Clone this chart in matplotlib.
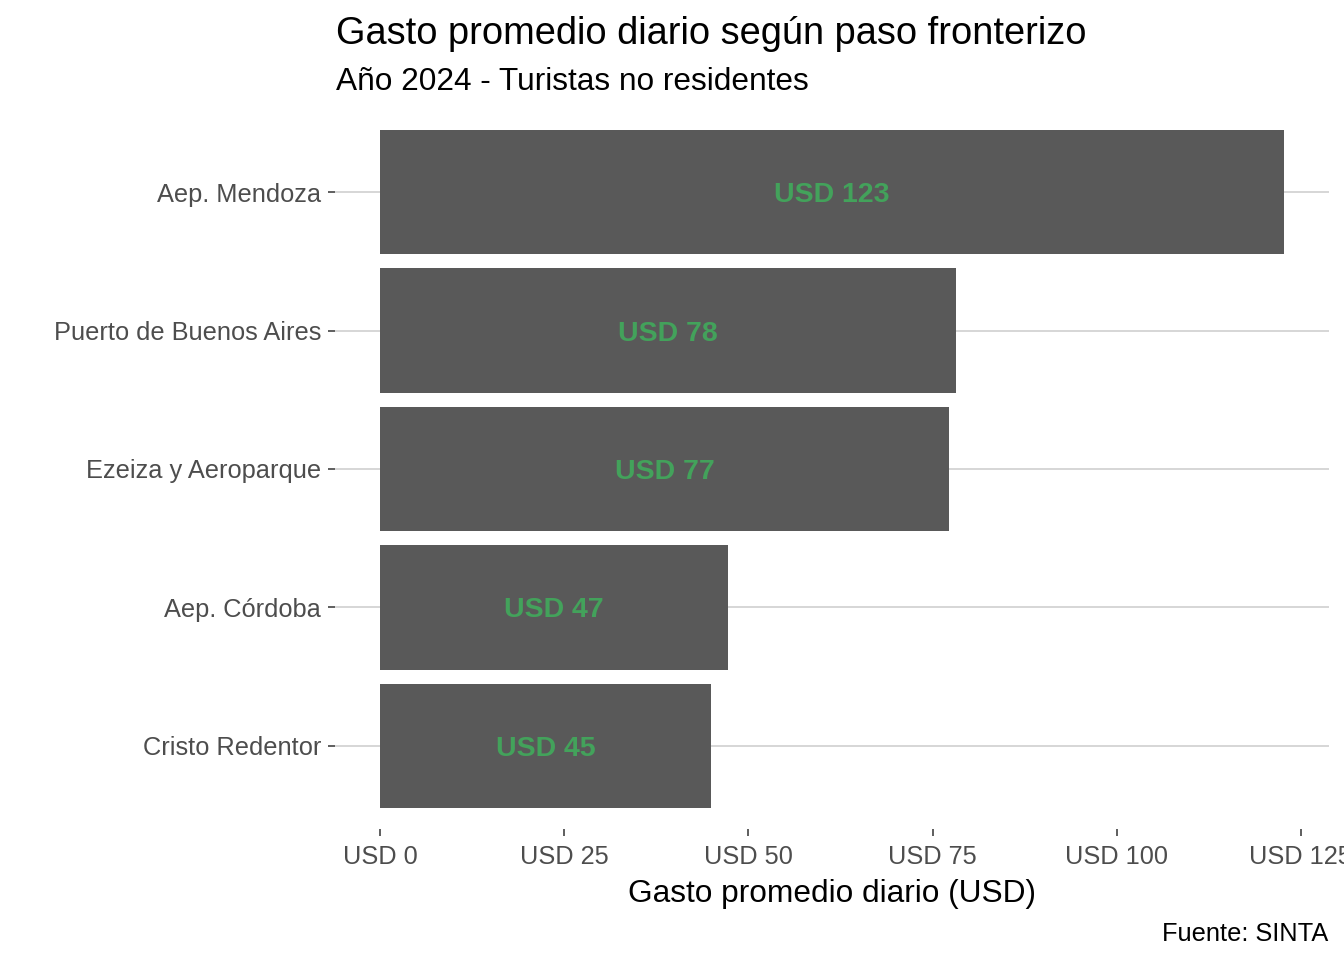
import matplotlib.pyplot as plt
import numpy as np
from matplotlib.ticker import FuncFormatter

plt.rcParams['font.family'] = ['Liberation Sans', 'DejaVu Sans']

# data (top to bottom)
pasos = ['Aep. Mendoza', 'Puerto de Buenos Aires', 'Ezeiza y Aeroparque',
         'Aep. Córdoba', 'Cristo Redentor']
gasto = [122.7, 78.2, 77.3, 47.2, 44.9]
xticks = [0, 25, 50, 75, 100, 125]

W, H = 1344, 960
fig = plt.figure(figsize=(W / 100, H / 100), dpi=100)
ax = fig.add_axes([335 / W, 1 - 829 / H, (1329 - 335) / W, (829 - 109) / H])

ypos = np.arange(len(pasos))[::-1] + 1
ax.barh(ypos, gasto, height=0.9, color='#595959', zorder=2)
for y, v in zip(ypos, gasto):
    ax.text(v / 2, y, 'USD %d' % round(v), ha='center', va='center_baseline',
            color='#43a25b', fontsize=20.5, fontweight='bold', zorder=3)

ax.set_xlim(-0.05 * max(gasto), 1.05 * max(gasto))
ax.set_ylim(0.4, len(pasos) + 0.6)
ax.set_yticks(ypos)
ax.set_yticklabels(pasos, va='center_baseline')
ax.set_xticks(xticks)
ax.xaxis.set_major_formatter(FuncFormatter(lambda x, p: 'USD %d' % x))

ax.grid(axis='y', color='#d6d6d6', linewidth=1.4, zorder=0)
ax.grid(axis='x', visible=False)
for s in ax.spines.values():
    s.set_visible(False)
ax.tick_params(axis='both', colors='#333333', labelcolor='#4d4d4d',
               labelsize=18.3, length=5, width=1.1, pad=5)
ax.tick_params(axis='x', pad=6.5)

ax.set_xlabel('Gasto promedio diario (USD)', fontsize=22.8, color='black', labelpad=7)

fig.text(336 / W, 1 - 44 / H, 'Gasto promedio diario según paso fronterizo',
         fontsize=27.4, va='baseline', ha='left')
fig.text(336 / W, 1 - 90 / H, 'Año 2024 - Turistas no residentes',
         fontsize=22.8, va='baseline', ha='left')
fig.text(1328 / W, 1 - 941 / H, 'Fuente: SINTA',
         fontsize=18.3, va='baseline', ha='right')

fig.savefig('out.png', dpi=100)
